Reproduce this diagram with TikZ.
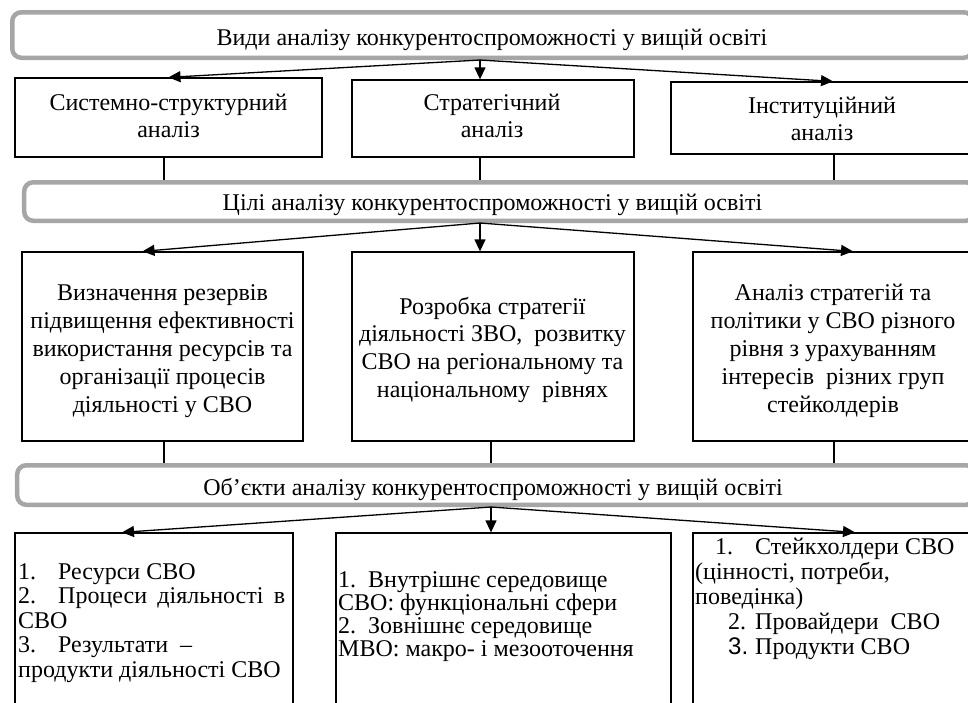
\documentclass[tikz,border=0pt]{standalone}
\usepackage{fontspec}
\setmainfont{Liberation Serif}
\newfontfamily\arialf{Liberation Sans}
\usetikzlibrary{arrows.meta,calc}
\definecolor{bannergray}{RGB}{166,166,166}
\begin{document}
\begin{tikzpicture}[x=1pt,y=-1pt,
  banner/.style={draw=bannergray, line width=4.5pt, rounded corners=9pt, fill=white, inner sep=0pt},
  box/.style={draw=black, line width=1.3pt, fill=white, inner sep=0pt},
  txt/.style={inner sep=0pt, font=\fontsize{24}{28}\selectfont},
  arr/.style={line width=1.3pt, -{Triangle[length=12pt,width=11pt]}},
  ln/.style={line width=1.3pt}]
\useasboundingbox (0,0) rectangle (968,702);
\clip (0,0) rectangle (968,702);
\fill[white] (0,0) rectangle (968,702);

% banners
\node[banner, minimum width=960.5pt, minimum height=45.5pt] (b1) at (492.5,35) {};
\node[banner, minimum width=950.75pt, minimum height=38.5pt] (b2) at (499.6,201.5) {};
\node[banner, minimum width=957.75pt, minimum height=39.5pt] (b3) at (496.1,485) {};
\node[txt, anchor=base] (b1t) at (492,45) {Види аналізу конкурентоспроможності у вищій освіті};
\node[txt, anchor=base] (b2t) at (492.5,210) {Цілі аналізу конкурентоспроможності у вищій освіті};
\node[txt, anchor=base] (b3t) at (493,495) {Об’єкти аналізу конкурентоспроможності у вищій освіті};

% row 1
\node[box, minimum width=307pt, minimum height=79pt] (L1) at (168.5,117.5) {};
\node[box, minimum width=282pt, minimum height=77pt] (M1) at (493,118.5) {};
\node[box, minimum width=302pt, minimum height=72pt] (R1) at (822,118) {};
\node[txt, anchor=base] (L1t) at (168.5,110) {\parbox[t]{300pt}{\centering\fontsize{24}{27}\selectfont Системно-структурний\\аналіз}};
\node[txt, anchor=base] (M1t) at (492,110) {\parbox[t]{270pt}{\centering\fontsize{24}{27}\selectfont Стратегічний\\аналіз}};
\node[txt, anchor=base] (R1t) at (822,113) {\parbox[t]{290pt}{\centering\fontsize{24}{27}\selectfont Інституційний\\аналіз}};

% row 2
\node[box, minimum width=281pt, minimum height=189pt] (L2) at (162.5,346.5) {};
\node[box, minimum width=282pt, minimum height=189pt] (M2) at (493,346.5) {};
\node[box, minimum width=280pt, minimum height=189pt] (R2) at (833,346.5) {};
\node[txt, anchor=base] (L2t) at (162.5,300) {\parbox[t]{278pt}{\centering\fontsize{24}{28}\selectfont Визначення резервів\\підвищення ефективності\\використання ресурсів та\\організації процесів\\діяльності у СВО}};
\node[txt, anchor=base] (M2t) at (492.5,314) {\parbox[t]{278pt}{\centering\fontsize{24}{27.8}\selectfont Розробка стратегії\\діяльності ЗВО, ~розвитку\\СВО на регіональному та\\національному ~рівнях}};
\node[txt, anchor=base] (R2t) at (833,300) {\parbox[t]{278pt}{\centering\fontsize{24}{28}\selectfont Аналіз стратегій та\\політики у СВО різного\\рівня з урахуванням\\інтересів ~різних груп\\стейколдерів}};

% row 3
\node[box, minimum width=278pt, minimum height=207pt] (L3) at (154,636.5) {};
\node[box, minimum width=335pt, minimum height=207pt] (M3) at (503.5,636.5) {};
\node[box, minimum width=282pt, minimum height=207pt] (R3) at (834,636.5) {};
\node[txt, anchor=base west] (L3t) at (18,579) {\parbox[t]{272pt}{\fontsize{24}{24.5}\selectfont
\makebox[40pt][l]{1.}Ресурси СВО\\
\makebox[267pt][l]{\makebox[40pt][l]{2.}Процеси\hfill діяльності\hfill в}\\
СВО\\
\makebox[40pt][l]{3.}Результати\hspace{12pt}–\\
продукти діяльності СВО}};
\node[txt, anchor=base west] (M3t) at (338,587) {\parbox[t]{330pt}{\fontsize{24}{23}\selectfont
\makebox[30pt][l]{1.}Внутрішнє середовище\\
СВО: функціональні сфери\\
\makebox[30pt][l]{2.}Зовнішнє середовище\\
МВО: макро- і мезооточення}};
\node[txt, anchor=base west] (R3t) at (695,554) {\parbox[t]{275pt}{\fontsize{24}{25}\selectfont
\hspace*{20pt}\makebox[40pt][l]{1.}Стейкхолдери СВО\\
(цінності, потреби,\\
поведінка)\\
\hspace*{33pt}\makebox[27pt][l]{2.}Провайдери~ СВО\\
\hspace*{33pt}\makebox[27pt][l]{{\arialf 3.}}Продукти СВО}};

% connectors banner 1 -> row 1
\coordinate (s1) at (b1.south -| 480,0);
\draw[arr] (s1) -- (L1.north);
\draw[arr] (s1) -- (s1 |- M1.north);
\draw[arr] (s1) -- ($(R1.north)+(11,0)$);
% row 1 -> banner 2
\draw[ln] (L1.south -| 164,0) -- (b2.north -| 164,0);
\draw[ln] (M1.south -| 480,0) -- (b2.north -| 480,0);
\draw[ln] (R1.south -| 834,0) -- (b2.north -| 834,0);
% banner 2 -> row 2
\coordinate (s2) at (b2.south -| 480,0);
\draw[arr] (s2) -- ($(L2.north)+(-20,0)$);
\draw[arr] (s2) -- (s2 |- M2.north);
\draw[arr] (s2) -- ($(R2.north)+(20,0)$);
% row 2 -> banner 3
\draw[ln] (L2.south -| 164,0) -- (b3.north -| 164,0);
\draw[ln] (M2.south -| 491,0) -- (b3.north -| 491,0);
\draw[ln] (R2.south -| 834,0) -- (b3.north -| 834,0);
% banner 3 -> row 3
\coordinate (s3) at (b3.south -| 491,0);
\draw[arr] (s3) -- ($(L3.north)+(-32,0)$);
\draw[arr] (s3) -- (s3 |- M3.north);
\draw[arr] (s3) -- ($(R3.north)+(21,0)$);
\end{tikzpicture}
\end{document}
